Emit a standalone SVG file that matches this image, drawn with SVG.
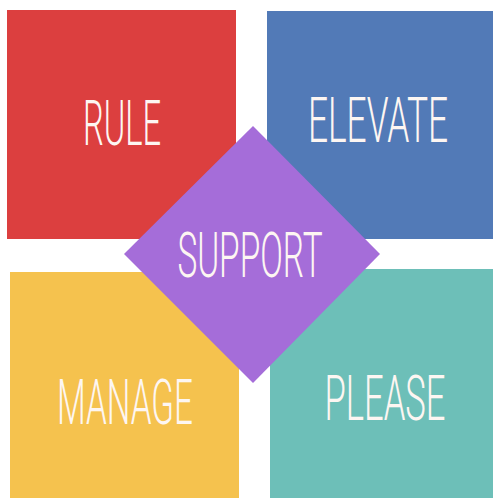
<svg xmlns="http://www.w3.org/2000/svg" width="493" height="498" viewBox="0 0 493 498">
<style>
.lbl{font-family:Roboto,"Liberation Sans",sans-serif;font-weight:300;font-size:63px;fill:#fdf6f2;text-anchor:middle}
</style>
<rect width="493" height="498" fill="#ffffff"/>
<g id="rule"><rect x="7" y="10" width="229" height="229" fill="#dc3f3f"/><text class="lbl" transform="translate(122,145) scale(0.55,1)" x="0" y="0" textLength="142" lengthAdjust="spacingAndGlyphs">RULE</text></g>
<g id="elevate"><rect x="267" y="11" width="226" height="228" fill="#527ab7"/><text class="lbl" transform="translate(378,142) scale(0.55,1)" x="0" y="0" textLength="255" lengthAdjust="spacingAndGlyphs">ELEVATE</text></g>
<g id="manage"><rect x="10" y="272" width="229" height="226" fill="#f5c24e"/><text class="lbl" transform="translate(125,424) scale(0.55,1)" x="0" y="0" textLength="247" lengthAdjust="spacingAndGlyphs">MANAGE</text></g>
<g id="please"><rect x="270" y="269" width="223" height="229" fill="#6dbfb8"/><text class="lbl" transform="translate(385,420) scale(0.55,1)" x="0" y="0" textLength="220" lengthAdjust="spacingAndGlyphs">PLEASE</text></g>
<g id="support"><polygon points="253,126 380,254 253,383 124,254" fill="#a56dd9"/><text class="lbl" transform="translate(250,277) scale(0.55,1)" x="0" y="0" textLength="264" lengthAdjust="spacingAndGlyphs">SUPPORT</text></g>
<g id="connectors"/>
</svg>
